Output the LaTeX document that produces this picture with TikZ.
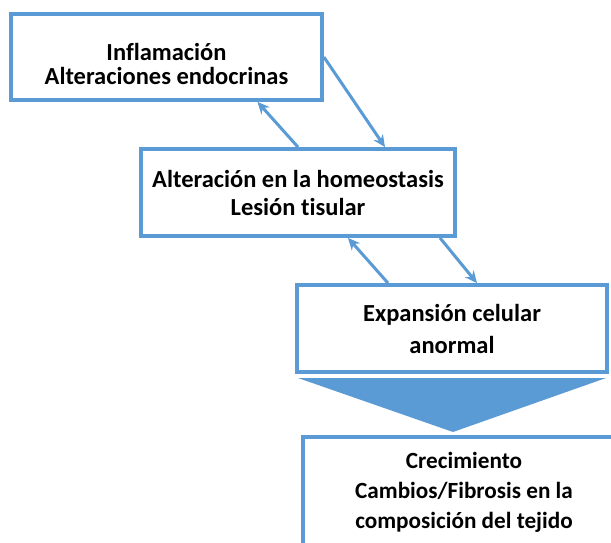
\documentclass[tikz,border=0pt]{standalone}
\usepackage{fontspec}
\setmainfont{Carlito}[Ligatures={NoCommon}]
\usetikzlibrary{arrows.meta}

\definecolor{boxblue}{RGB}{91,155,213}

\tikzset{
	box/.style={draw=boxblue, line width=3.8pt, fill=white, inner sep=0pt,
		align=center, font=\fontsize{24.5}{24}\selectfont\bfseries},
	link/.style={draw=boxblue, line width=3pt, -{Stealth[length=12pt,width=11pt]}}
}

\begin{document}
\begin{tikzpicture}[x=1pt,y=-1pt]

	\clip (0,0) rectangle (611,543);
	\fill[white] (0,0) rectangle (611,543);

	\node[box, minimum width=311pt, minimum height=86pt] (b1) at (166.5,57)
		{\rule{0pt}{31pt}Inflamación\\Alteraciones endocrinas};
	\node[box, minimum width=314pt, minimum height=87pt,
		font=\fontsize{24.5}{28}\selectfont\bfseries] (b2) at (298,192.5)
		{Alteración en la homeostasis\\Lesión tisular};
	\node[box, minimum width=310pt, minimum height=87pt,
		font=\fontsize{24.5}{32}\selectfont\bfseries] (b3) at (452,328.5)
		{Expansión celular\\anormal};
	\node[box, minimum width=322pt, minimum height=110pt,
		font=\fontsize{23.2}{30}\selectfont\bfseries] (b4) at (464,492)
		{Crecimiento\\Cambios/Fibrosis en la\\composición del tejido};

	% ends of the arrows on the box edges
	\coordinate (p12) at ([xshift=87pt]b2.north);
	\coordinate (p21) at ([xshift=91pt]b1.south);
	\coordinate (p32) at ([xshift=50pt]b2.south);
	\coordinate (p23) at ([xshift=25pt]b3.north);
	\coordinate (q2) at ([xshift=142pt]b2.south);
	\coordinate (q3) at ([xshift=-64pt]b3.north);

	\foreach \i / \j in {
	b1.east/p12,
	b2.north/p21,
	q3/p32,
	q2/p23}
	{
		\path[link] (\i) -- (\j);
	};

	% big arrow down
	\fill[boxblue] (298,378) -- (606,378) -- (453,432) -- cycle;
\end{tikzpicture}
\end{document}
